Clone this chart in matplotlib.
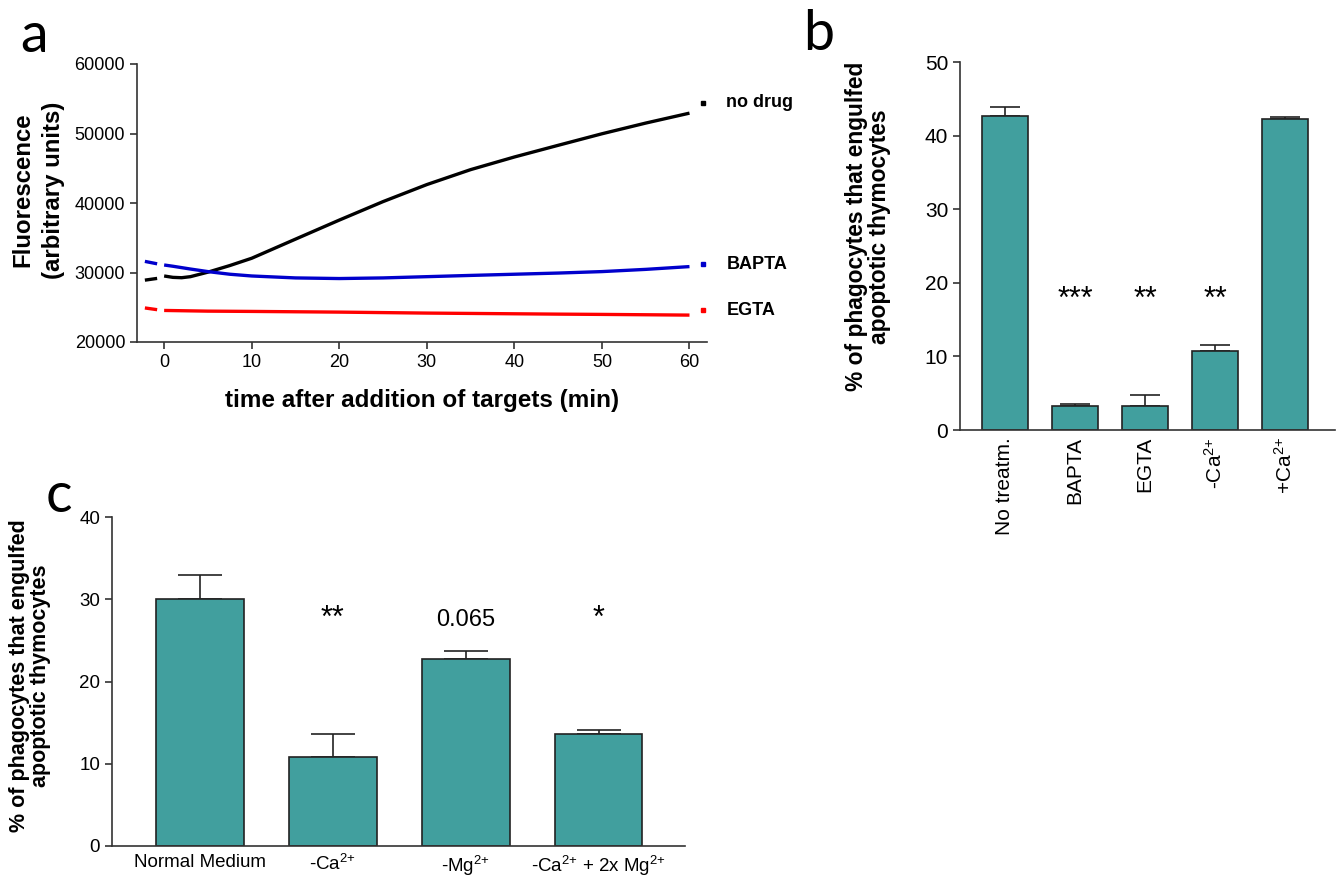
import numpy as np
import matplotlib
matplotlib.use("Agg")
import matplotlib.pyplot as plt

plt.rcParams['font.family'] = ['Liberation Sans', 'DejaVu Sans']
plt.rcParams['mathtext.fontset'] = 'custom'
plt.rcParams['mathtext.rm'] = 'Liberation Sans'
plt.rcParams['mathtext.it'] = 'Liberation Sans:italic'
plt.rcParams['mathtext.bf'] = 'Liberation Sans:bold'

# ---------------- Panel a data ----------------
time_pre = [-2.2, -0.8]
time_main = [0, 1, 2, 3, 5, 7.5, 10, 15, 20, 25, 30, 35, 40, 45, 50, 55, 60]
nodrug_pre = [28900, 29150]
nodrug_main = [29500, 29300, 29250, 29400, 30050, 31000, 32050, 34800, 37540, 40200, 42650,
               44800, 46620, 48300, 49960, 51500, 52930]
bapta_pre = [31600, 31250]
bapta_main = [31080, 30900, 30700, 30500, 30130, 29750, 29500, 29220, 29130, 29220, 29400,
              29580, 29750, 29920, 30130, 30450, 30850]
egta_pre = [24900, 24650]
egta_main = [24540, 24520, 24500, 24480, 24440, 24420, 24400, 24350, 24300, 24230, 24160,
             24110, 24060, 24010, 23970, 23920, 23870]
label_x = 61.6
label_vals = {'no drug': 54390, 'BAPTA': 31220, 'EGTA': 24600}
series_colors = {'no drug': '#000000', 'BAPTA': '#0000cc', 'EGTA': '#ff0000'}

# ---------------- Panel b data ----------------
b_labels = ['No treatm.', 'BAPTA', 'EGTA', '-Ca$^{2{+}}$', '+Ca$^{2{+}}$']
b_values = [42.7, 3.3, 3.3, 10.8, 42.3]
b_errors = [1.2, 0.3, 1.5, 0.7, 0.2]
b_sig = ['', '***', '**', '**', '']

# ---------------- Panel c data ----------------
c_labels = ['Normal Medium', '-Ca$^{2{+}}$', '-Mg$^{2{+}}$', '-Ca$^{2{+}}$ + 2x Mg$^{2{+}}$']
c_values = [30.0, 10.8, 22.7, 13.6]
c_errors = [3.0, 2.8, 1.0, 0.5]
c_sig = ['', '**', '0.065', '*']

teal = '#419f9e'
W, H = 1340, 876
fig = plt.figure(figsize=(W / 100, H / 100), dpi=100)

def style(ax):
    for s in ['top', 'right']:
        ax.spines[s].set_visible(False)
    for s in ['left', 'bottom']:
        ax.spines[s].set_linewidth(1.2)
        ax.spines[s].set_color('#333333')
    ax.tick_params(direction='out', width=1.2, length=5, color='#333333')

# ---------------- Panel a ----------------
axa = fig.add_axes([137 / W, 1 - 342 / H, (707 - 137) / W, (342 - 64) / H])
style(axa)
for name, pre, main in [('no drug', nodrug_pre, nodrug_main),
                        ('BAPTA', bapta_pre, bapta_main),
                        ('EGTA', egta_pre, egta_main)]:
    c = series_colors[name]
    axa.plot(time_pre, pre, color=c, lw=2.4, solid_capstyle='butt')
    axa.plot(time_main, main, color=c, lw=2.4, solid_capstyle='butt')
    axa.plot([label_x], [label_vals[name]], marker='s', ms=2.2, color=c, ls='none')
    axa.text(label_x + 2.6, label_vals[name], name, fontsize=13, fontweight='bold',
             va='center', ha='left', clip_on=False)
axa.set_xlim(-3.1, 62)
axa.set_ylim(20000, 60000)
axa.set_xticks([0, 10, 20, 30, 40, 50, 60])
axa.set_yticks([20000, 30000, 40000, 50000, 60000])
axa.tick_params(labelsize=13)
axa.set_xlabel('time after addition of targets (min)', fontsize=17.5, fontweight='bold', labelpad=13)
axa.set_ylabel('Fluorescence\n(arbitrary units)', fontsize=17.3, fontweight='bold', labelpad=7,
               linespacing=1.4)
axa.yaxis.label.set_y(0.547)

# ---------------- Panel b ----------------
axb = fig.add_axes([960 / W, 1 - 430 / H, (1335 - 960) / W, (430 - 62) / H])
style(axb)
xb = np.arange(len(b_values))
axb.bar(xb, b_values, width=0.66, color=teal, edgecolor='#222222', linewidth=1.2, zorder=2)
axb.errorbar(xb, b_values, yerr=[np.zeros(len(b_errors)), b_errors], fmt='none',
             ecolor='#222222', elinewidth=1.2, capsize=11, capthick=1.2, zorder=1)
for xi, s in zip(xb, b_sig):
    if s:
        axb.text(xi, 15.6, s, ha='center', va='bottom', fontsize=22)
axb.set_xlim(-0.64, 4.71)
axb.set_ylim(0, 50)
axb.set_yticks([0, 10, 20, 30, 40, 50])
axb.set_xticks(xb)
axb.set_xticklabels(b_labels, rotation=90, fontsize=15)
axb.tick_params(axis='x', length=0, pad=5)
axb.tick_params(axis='y', labelsize=15)
axb.set_ylabel('% of phagocytes that engulfed\napoptotic thymocytes', fontsize=16.4,
               fontweight='bold', labelpad=24, linespacing=1.0)
axb.yaxis.label.set_y(0.552)

# ---------------- Panel c ----------------
axc = fig.add_axes([112 / W, 1 - 846 / H, (685 - 112) / W, (846 - 517) / H])
style(axc)
xc = np.arange(len(c_values))
axc.bar(xc, c_values, width=0.66, color=teal, edgecolor='#222222', linewidth=1.2, zorder=2)
axc.errorbar(xc, c_values, yerr=[np.zeros(len(c_errors)), c_errors], fmt='none',
             ecolor='#222222', elinewidth=1.2, capsize=16, capthick=1.2, zorder=1)
for xi, s in zip(xc, c_sig):
    if s:
        if s.startswith('0'):
            axc.text(xi, 26.2, s, ha='center', va='bottom', fontsize=17)
        else:
            axc.text(xi, 25.8, s, ha='center', va='bottom', fontsize=22)
axc.set_xlim(-0.66, 3.65)
axc.set_ylim(0, 40)
axc.set_yticks([0, 10, 20, 30, 40])
axc.set_xticks(xc)
axc.set_xticklabels(c_labels, fontsize=13.5)
axc.tick_params(axis='x', length=0, pad=6)
axc.tick_params(axis='y', labelsize=13.5)
axc.set_ylabel('% of phagocytes that engulfed\napoptotic thymocytes', fontsize=15.5,
               fontweight='bold', labelpad=20, linespacing=1.0)
axc.yaxis.label.set_y(0.517)

# ---------------- Panel letters ----------------
fig.text(20 / W, 1 - 52 / H, 'a', fontsize=40, family='Lato', va='baseline')
fig.text(803 / W, 1 - 50 / H, 'b', fontsize=40, family='Lato', va='baseline')
fig.text(46 / W, 1 - 512 / H, 'c', fontsize=40, family='Lato', va='baseline')

fig.savefig('out.png', dpi=100)
